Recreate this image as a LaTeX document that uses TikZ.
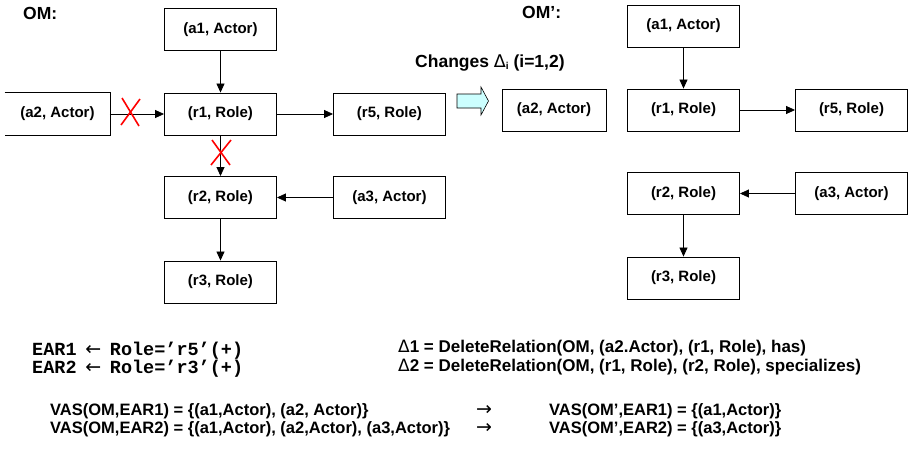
\documentclass[tikz,border=0pt]{standalone}
\usepackage{fontspec}
\setmainfont{Liberation Sans}
\newfontfamily\codefont{Liberation Mono}
\newfontfamily\symfont{DejaVu Sans}
\usetikzlibrary{arrows.meta}

\definecolor{shiftfill}{RGB}{204,255,255}
\newcommand{\leftarr}{\makebox[11.1pt][c]{\mdseries\symfont\fontsize{19}{22}\selectfont ←}}

\begin{document}
\begin{tikzpicture}[x=1pt,y=-1pt,
  box/.style={draw, line width=0.9pt, minimum width=112pt, minimum height=42pt,
    inner sep=0pt, font=\fontsize{15}{18}\selectfont\bfseries},
  narrowbox/.style={box, minimum width=104pt},
  link/.style={line width=0.8pt, -{Triangle[length=9pt,width=8pt]}},
  cut/.style={red, line width=1.6pt},
  title/.style={anchor=base west, inner sep=0pt, font=\fontsize{17.5}{21}\selectfont\bfseries},
  formula/.style={anchor=base west, inner sep=0pt, font=\fontsize{17}{20}\selectfont\bfseries},
  vas/.style={anchor=base west, inner sep=0pt, font=\fontsize{16.5}{20}\selectfont\bfseries},
  code/.style={anchor=base west, inner sep=0pt, font=\codefont\fontsize{18.5}{22}\selectfont\bfseries}
]
\useasboundingbox (0,0) rectangle (913,453);

% ---------- original model OM ----------
\node[title] (omlabel) at (23,19) {OM:};
\node[box] (a1) at (220.5,29.5) {(a1, Actor)};
\node[narrowbox, draw=none] (a2) at (57.5,114) {(a2, Actor)};
\draw[line width=0.9pt] ([xshift=-0.5pt]a2.north west) -- (a2.north east)
  -- (a2.south east) -- ([xshift=-0.5pt]a2.south west);
\node[box] (r1) at (220.5,114) {(r1, Role)};
\node[box] (r5) at (389.5,114) {(r5, Role)};
\node[box] (r2) at (220.5,197.5) {(r2, Role)};
\node[box] (a3) at (389.5,197.5) {(a3, Actor)};
\node[box] (r3) at (220.5,282) {(r3, Role)};

\draw[link] (a1) -- (r1);
\draw[link] (a2) -- (r1);
\draw[link] (r1) -- (r5);
\draw[link] (r1) -- (r2);
\draw[link] (a3) -- (r2);
\draw[link] (r2) -- (r3);

% deleted relations
\coordinate (cutA) at (130.5,112);
\coordinate (cutB) at (221,152.5);
\draw[cut] ([shift={(-8.5,-14)}]cutA) -- ([shift={(8.5,14)}]cutA);
\draw[cut] ([shift={(9.5,-13)}]cutA) -- ([shift={(-9.5,13)}]cutA);
\draw[cut] ([shift={(-9,-12.5)}]cutB) -- ([shift={(9,12.5)}]cutB);
\draw[cut] ([shift={(10,-12.5)}]cutB) -- ([shift={(-10,12.5)}]cutB);

% ---------- change arrow ----------
\node[title] (changes) at (415,67) {Changes {\mdseries\symfont Δ}\raisebox{-2.5pt}{\fontsize{10}{10}\selectfont i} (i=1,2)};
\draw[line width=0.6pt, fill=shiftfill] (457,94) -- (481,94) -- (481,87) -- (488.5,101)
  -- (481,115) -- (481,108) -- (457,108) -- cycle;

% ---------- changed model OM' ----------
\node[title] (om2label) at (522,18) {OM’:};
\node[box] (b1) at (683.5,26) {(a1, Actor)};
\node[narrowbox] (b2) at (554,110) {(a2, Actor)};
\node[box] (s1) at (683.5,110) {(r1, Role)};
\node[box] (s5) at (851.5,110) {(r5, Role)};
\node[box] (s2) at (683.5,193.5) {(r2, Role)};
\node[box] (b3) at (851.5,193.5) {(a3, Actor)};
\node[box] (s3) at (683.5,278) {(r3, Role)};

\draw[link] (b1) -- (s1);
\draw[link] (s1) -- (s5);
\draw[link] (b3) -- (s2);
\draw[link] (s2) -- (s3);

% ---------- rules and changes ----------
\node[code] (ear1) at (32,355) {EAR1 \leftarr{} Role=’r5’(+)};
\node[code] (ear2) at (32,373) {EAR2 \leftarr{} Role=’r3’(+)};
\node[formula] (d1) at (398,352) {{\mdseries\symfont Δ}1 = DeleteRelation(OM, (a2.Actor), (r1, Role), has)};
\node[formula] (d2) at (398,371) {{\mdseries\symfont Δ}2 = DeleteRelation(OM, (r1, Role), (r2, Role), specializes)};

% ---------- view results ----------
\node[vas] (v1) at (50,415) {VAS(OM,EAR1) = \{(a1,Actor), (a2, Actor)\}};
\node[vas] (v2) at (50,433) {VAS(OM,EAR2) = \{(a1,Actor), (a2,Actor), (a3,Actor)\}};
\node[vas] (t1) at (476,415) {\mdseries\symfont\fontsize{19}{20}\selectfont →};
\node[vas] (t2) at (476,433) {\mdseries\symfont\fontsize{19}{20}\selectfont →};
\node[vas] (w1) at (549,415) {VAS(OM’,EAR1) = \{(a1,Actor)\}};
\node[vas] (w2) at (549,433) {VAS(OM’,EAR2) = \{(a3,Actor)\}};
\end{tikzpicture}
\end{document}
